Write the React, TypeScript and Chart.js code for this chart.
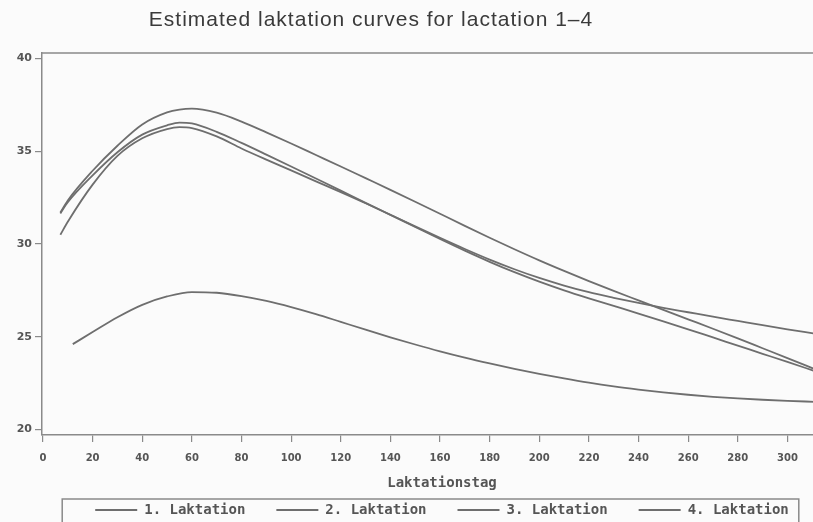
import React, { useEffect, useRef } from 'react';
import { Chart, registerables } from 'chart.js';

Chart.register(...registerables);

const TITLE = 'Estimated laktation curves for lactation 1\u20134';
const X_TITLE = 'Laktationstag';
const seriesLabels = ['1. Laktation', '2. Laktation', '3. Laktation', '4. Laktation'];
const xTicks = [0, 20, 40, 60, 80, 100, 120, 140, 160, 180, 200, 220, 240, 260, 280, 300];
const yTicks = [20, 25, 30, 35, 40];

const daysL1 = [12, 20, 30, 40, 50, 60, 70, 80, 90, 100, 110, 120, 130, 140, 150, 160, 170, 180, 190, 200, 210, 220, 230, 240, 250, 260, 270, 280, 290, 300, 311];
const lact1 = [24.6, 25.25, 26.05, 26.72, 27.17, 27.41, 27.37, 27.19, 26.93, 26.6, 26.22, 25.8, 25.38, 24.97, 24.58, 24.21, 23.87, 23.56, 23.27, 23.0, 22.75, 22.52, 22.32, 22.15, 22.0, 21.87, 21.76, 21.67, 21.6, 21.54, 21.49];

const daysL234 = [7, 10, 20, 30, 40, 50, 55, 60, 70, 80, 90, 100, 110, 120, 130, 140, 150, 160, 170, 180, 190, 200, 210, 220, 230, 240, 250, 260, 270, 280, 290, 300, 311];
const lact2 = [31.65, 32.25, 33.7, 34.95, 35.9, 36.4, 36.55, 36.5, 36.05, 35.45, 34.82, 34.18, 33.53, 32.88, 32.22, 31.58, 30.95, 30.33, 29.73, 29.16, 28.64, 28.17, 27.76, 27.4, 27.1, 26.82, 26.56, 26.32, 26.08, 25.85, 25.62, 25.4, 25.17];
const lact3 = [30.5, 31.2, 33.2, 34.75, 35.7, 36.2, 36.3, 36.25, 35.8, 35.15, 34.55, 33.97, 33.38, 32.8, 32.2, 31.57, 30.92, 30.27, 29.64, 29.04, 28.48, 27.97, 27.5, 27.07, 26.66, 26.25, 25.83, 25.4, 24.96, 24.52, 24.08, 23.64, 23.15];
const lact4 = [31.7, 32.35, 33.95, 35.3, 36.45, 37.1, 37.25, 37.3, 37.08, 36.6, 36.02, 35.42, 34.8, 34.18, 33.55, 32.92, 32.28, 31.63, 30.98, 30.34, 29.72, 29.12, 28.55, 28.0, 27.47, 26.96, 26.45, 25.94, 25.43, 24.91, 24.38, 23.85, 23.25];

const LINE = '#6e6e6e';
const AXIS = '#8a8a8a';
const TEXT = '#555555';
const BG = '#fbfbfb';

const toPts = (xs: number[], ys: number[]) => xs.map((x, i) => ({ x, y: ys[i] }));

const bgPlugin = {
  id: 'bg',
  beforeDraw(chart: any) {
    const { ctx, width, height } = chart;
    ctx.save();
    ctx.fillStyle = BG;
    ctx.fillRect(0, 0, width, height);
    ctx.restore();
  },
};

const framePlugin = {
  id: 'frame',
  afterDraw(chart: any) {
    const { ctx, chartArea } = chart;
    ctx.save();
    ctx.strokeStyle = AXIS;
    ctx.lineWidth = 1.5;
    ctx.beginPath();
    ctx.moveTo(chartArea.left, chartArea.top);
    ctx.lineTo(chartArea.right, chartArea.top);
    ctx.stroke();
    ctx.restore();
  },
};

const titlePlugin = {
  id: 'customTitle',
  afterDraw(chart: any) {
    const { ctx } = chart;
    ctx.save();
    ctx.font = '21px "Liberation Sans", Arial, sans-serif';
    (ctx as any).letterSpacing = '1px';
    ctx.fillStyle = '#3a3a3a';
    ctx.textAlign = 'center';
    ctx.textBaseline = 'alphabetic';
    ctx.fillText(TITLE, 371, 26);
    ctx.restore();
  },
};

const legendBoxPlugin = {
  id: 'legendBox',
  afterDraw(chart: any) {
    const lg = chart.legend;
    if (!lg || !lg.legendHitBoxes || !lg.legendHitBoxes.length) return;
    const boxes = lg.legendHitBoxes;
    const first = boxes[0];
    const last = boxes[boxes.length - 1];
    const { ctx } = chart;
    ctx.save();
    ctx.strokeStyle = AXIS;
    ctx.lineWidth = 1.5;
    const left = first.left - 33;
    const right = last.left + last.width + 10;
    const top = lg.top + 27;
    ctx.strokeRect(left, top, right - left, chart.height + 10 - top);
    ctx.restore();
  },
};

export default function App() {
  const ref = useRef<HTMLCanvasElement>(null);

  useEffect(() => {
    if (!ref.current) return;
    const xTickFont = { family: '"DejaVu Sans", sans-serif', size: 10, weight: 'bold' as const };
    const yTickFont = { family: '"DejaVu Sans", sans-serif', size: 11, weight: 'bold' as const };
    const monoFont = { family: '"DejaVu Sans Mono", monospace', size: 14, weight: 'bold' as const };
    const series = [
      toPts(daysL1, lact1),
      toPts(daysL234, lact2),
      toPts(daysL234, lact3),
      toPts(daysL234, lact4),
    ];
    const chart = new Chart(ref.current, {
      type: 'line',
      data: {
        datasets: series.map((d, i) => ({
          label: seriesLabels[i],
          data: d,
          borderColor: LINE,
          backgroundColor: LINE,
          borderWidth: 1.8,
          pointRadius: 0,
          fill: false,
          cubicInterpolationMode: 'monotone' as const,
        })),
      },
      options: {
        animation: false,
        responsive: false,
        events: [],
        layout: { padding: { top: 53, left: 0, right: 0, bottom: 0 } },
        plugins: {
          title: { display: false },
          tooltip: { enabled: false },
          legend: {
            display: true,
            position: 'bottom',
            fullSize: false,
            labels: {
              usePointStyle: true,
              pointStyle: 'line',
              pointStyleWidth: 42,
              padding: 31,
              color: TEXT,
              font: monoFont,
            },
          },
        },
        scales: {
          x: {
            type: 'linear',
            min: -0.4,
            max: 322,
            afterBuildTicks: (s: any) => {
              s.ticks = xTicks.map((v) => ({ value: v }));
            },
            afterFit: (s: any) => {
              s.height = 37;
            },
            ticks: { autoSkip: false, maxRotation: 0, padding: 10, color: TEXT, font: xTickFont },
            grid: { display: true, drawOnChartArea: false, drawTicks: true, tickLength: 7, color: AXIS, lineWidth: 1.2 },
            border: { display: true, color: AXIS, width: 1.5 },
            title: {
              display: true,
              text: X_TITLE,
              color: TEXT,
              font: monoFont,
              padding: { top: 0, bottom: -19.4 },
            },
          },
          y: {
            type: 'linear',
            min: 19.7,
            max: 40.3,
            afterBuildTicks: (s: any) => {
              s.ticks = yTicks.map((v) => ({ value: v }));
            },
            afterFit: (s: any) => {
              s.width = 42;
            },
            ticks: { padding: 3, color: TEXT, font: yTickFont },
            grid: { display: true, drawOnChartArea: false, drawTicks: true, tickLength: 7, color: AXIS, lineWidth: 1.2 },
            border: { display: true, color: AXIS, width: 1.5 },
          },
        },
      },
      plugins: [bgPlugin, framePlugin, titlePlugin, legendBoxPlugin],
    } as any);
    return () => chart.destroy();
  }, []);

  return (
    <div style={{ position: 'fixed', left: 0, top: 0, width: 813, height: 522, overflow: 'hidden', background: BG }}>
      <canvas ref={ref} width={842} height={527} style={{ display: 'block' }} />
    </div>
  );
}
